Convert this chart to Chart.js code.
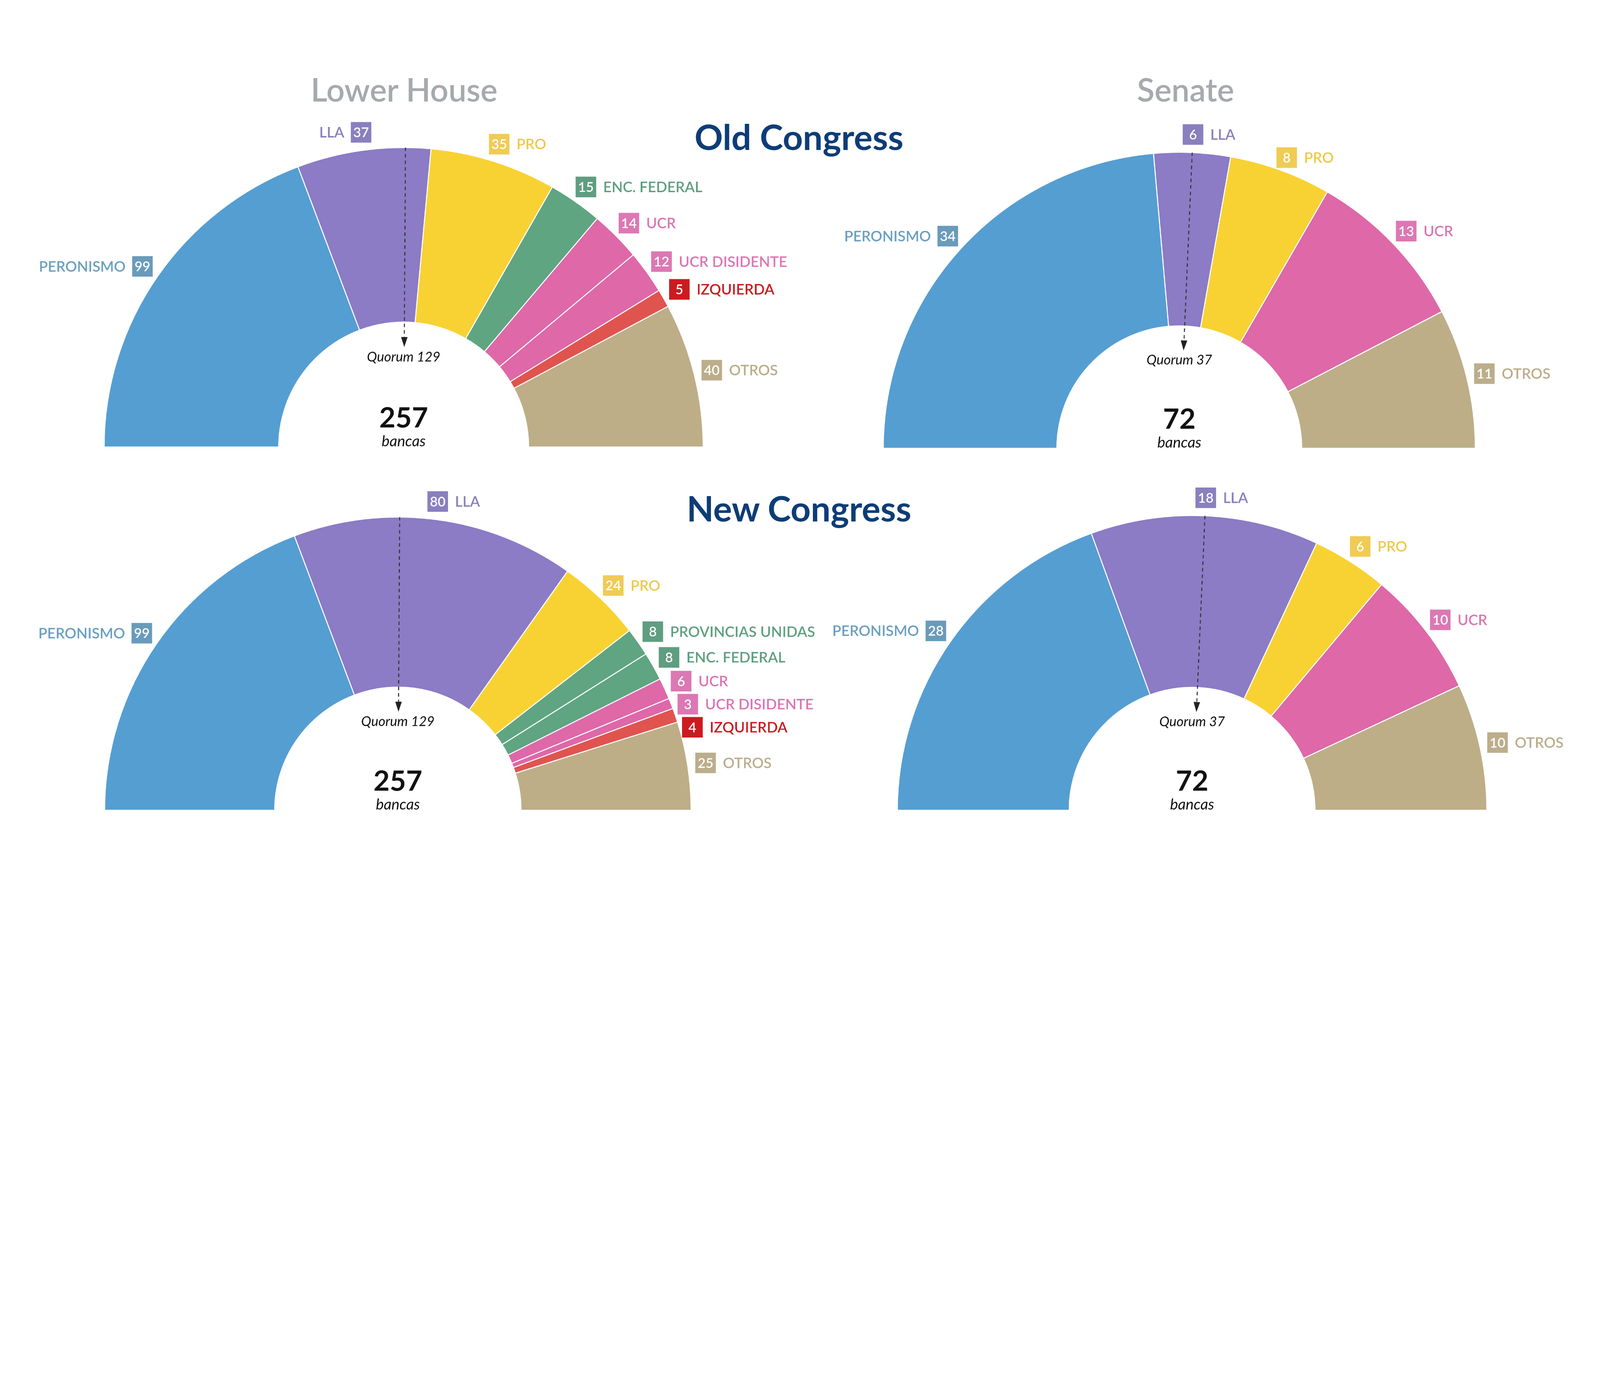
<!DOCTYPE html>
<html>
<head>
<meta charset="utf-8">
<script src="https://cdn.jsdelivr.net/npm/chart.js@4.4.0/dist/chart.umd.min.js"></script>
<style>
  html, body { margin: 0; padding: 0; background: #fff; overflow: hidden; }
  #page { position: absolute; left: 0; top: 0; width: 6378px; height: 3543px; overflow: hidden; transform-origin: 0 0; font-family: Lato, 'Open Sans', sans-serif; background: #fff; }
  canvas { position: absolute; }
  .title { position: absolute; transform: translate(-50%, -50%); white-space: nowrap; }
  .house { color: #a6aaae; font-size: 128px; font-weight: 600; }
  .congress { color: #0d3d77; font-size: 140px; font-weight: 700; }
</style>
</head>
<body>
<div id="page">
  <div class="title house" style="left:1611px; top:356px">Lower House</div>
  <div class="title house" style="left:4726px; top:356px">Senate</div>
  <div class="title congress" style="left:3185px; top:544px">Old Congress</div>
  <div class="title congress" style="left:3185px; top:2024px">New Congress</div>
</div>
<script>
// seats per bloc
const oldLowerParties = ['PERONISMO', 'LLA', 'PRO', 'ENC. FEDERAL', 'UCR', 'UCR DISIDENTE', 'IZQUIERDA', 'OTROS'];
const oldLowerSeats = [99, 37, 35, 15, 14, 12, 5, 40];
const oldSenateParties = ['PERONISMO', 'LLA', 'PRO', 'UCR', 'OTROS'];
const oldSenateSeats = [34, 6, 8, 13, 11];
const newLowerParties = ['PERONISMO', 'LLA', 'PRO', 'PROVINCIAS UNIDAS', 'ENC. FEDERAL', 'UCR', 'UCR DISIDENTE', 'IZQUIERDA', 'OTROS'];
const newLowerSeats = [99, 80, 24, 8, 8, 6, 3, 4, 25];
const newSenateParties = ['PERONISMO', 'LLA', 'PRO', 'UCR', 'OTROS'];
const newSenateSeats = [28, 18, 6, 10, 10];
const lowerQuorum = 129;
const senateQuorum = 37;

const partyStyle = {
  'PERONISMO':         { slice: '#559ed2', box: '#6a9bbb', text: '#6a9fc0' },
  'LLA':               { slice: '#8c7bc5', box: '#8a7fbf', text: '#8a80c0' },
  'PRO':               { slice: '#f8d232', box: '#f0cb55', text: '#efc94a' },
  'ENC. FEDERAL':      { slice: '#5fa582', box: '#5f9e80', text: '#5e9f80' },
  'PROVINCIAS UNIDAS': { slice: '#5fa582', box: '#5f9e80', text: '#5e9f80' },
  'UCR':               { slice: '#de68a8', box: '#dc78b3', text: '#dc75b2' },
  'UCR DISIDENTE':     { slice: '#de68a8', box: '#dc78b3', text: '#dc75b2' },
  'IZQUIERDA':         { slice: '#e0544f', box: '#cc1b1f', text: '#cc1b1f' },
  'OTROS':             { slice: '#bdae88', box: '#bcae8b', text: '#bbad8a' }
};

// fit the 6378x3543 layout into whatever viewport we get
const page = document.getElementById('page');
const fit = Math.min(window.innerWidth / 6378, window.innerHeight / 3543) || 1;
page.style.transform = 'scale(' + fit + ')';

const seatLabels = {
  id: 'seatLabels',
  afterDraw(chart, args, opts) {
    const ctx = chart.ctx;
    const arcs = chart.getDatasetMeta(0).data;
    const values = chart.data.datasets[0].data;
    const names = chart.data.labels;
    const cx = arcs[0].x, cy = arcs[0].y;
    const R = arcs[0].outerRadius, r = arcs[0].innerRadius;
    const total = values.reduce((a, b) => a + b, 0);
    ctx.save();

    // bloc labels, pushed down on the right when they would overlap
    let lastY = -Infinity;
    arcs.forEach((arc, i) => {
      const mid = (arc.startAngle + arc.endAngle) / 2;
      const d = R + 72;
      const x = cx + d * Math.cos(mid);
      let y = cy + d * Math.sin(mid);
      const right = x >= cx;
      if (right) {
        y = Math.max(y, lastY + 92);
        lastY = y;
      }
      const st = partyStyle[names[i]];
      ctx.fillStyle = st.box;
      ctx.fillRect(x - 41, y - 41, 82, 82);
      ctx.fillStyle = '#fff';
      ctx.font = '600 54px Lato';
      ctx.textAlign = 'center';
      ctx.textBaseline = 'middle';
      ctx.fillText(String(values[i]), x, y + 2);
      ctx.fillStyle = st.text;
      ctx.font = '600 58px Lato';
      if (right) {
        ctx.textAlign = 'left';
        ctx.fillText(names[i], x + 41 + 28, y + 2);
      } else {
        ctx.textAlign = 'right';
        ctx.fillText(names[i], x - 41 - 26, y + 2);
      }
    });

    // quorum marker
    const qa = -Math.PI + Math.PI * opts.quorum / total;
    const c = Math.cos(qa), s = Math.sin(qa);
    const tip = r * 0.8;
    ctx.strokeStyle = '#333';
    ctx.lineWidth = 4;
    ctx.setLineDash([14, 12]);
    ctx.beginPath();
    ctx.moveTo(cx + R * c, cy + R * s);
    ctx.lineTo(cx + (tip + 36) * c, cy + (tip + 36) * s);
    ctx.stroke();
    ctx.setLineDash([]);
    ctx.fillStyle = '#222';
    ctx.beginPath();
    ctx.moveTo(cx + tip * c, cy + tip * s);
    ctx.lineTo(cx + (tip + 40) * c - 13 * s, cy + (tip + 40) * s + 13 * c);
    ctx.lineTo(cx + (tip + 40) * c + 13 * s, cy + (tip + 40) * s - 13 * c);
    ctx.closePath();
    ctx.fill();

    ctx.fillStyle = '#111';
    ctx.textAlign = 'center';
    ctx.textBaseline = 'middle';
    ctx.font = 'italic 54px Lato';
    ctx.fillText('Quorum ' + opts.quorum, cx, cy - r * 0.72);
    ctx.font = 'bold 112px Lato';
    ctx.fillText(String(total), cx, cy - 114);
    ctx.font = 'italic 60px Lato';
    ctx.fillText('bancas', cx, cy - 22);
    ctx.restore();
  }
};

function drawChamber(parties, seats, quorum, cx, cy, R, r) {
  const padX = 650, padT = 260, padB = 120;
  const canvas = document.createElement('canvas');
  canvas.width = 2 * R + 2 * padX;
  canvas.height = R + padT + padB;
  canvas.style.left = (cx - R - padX) + 'px';
  canvas.style.top = (cy - R - padT) + 'px';
  canvas.style.width = canvas.width + 'px';
  canvas.style.height = canvas.height + 'px';
  page.appendChild(canvas);
  new Chart(canvas.getContext('2d'), {
    type: 'doughnut',
    data: {
      labels: parties,
      datasets: [{
        data: seats,
        backgroundColor: parties.map(p => partyStyle[p].slice),
        borderColor: '#ffffff',
        borderWidth: 4,
        circumference: 180,
        rotation: -90,
        radius: R,
        cutout: (100 * r / R).toFixed(2) + '%'
      }]
    },
    options: {
      responsive: false,
      animation: false,
      events: [],
      layout: { padding: { left: padX, right: padX, top: padT, bottom: padB } },
      plugins: {
        legend: { display: false },
        tooltip: { enabled: false },
        seatLabels: { quorum: quorum }
      }
    },
    plugins: [seatLabels]
  });
}

drawChamber(oldLowerParties, oldLowerSeats, lowerQuorum, 1609, 1782, 1194, 498);
drawChamber(oldSenateParties, oldSenateSeats, senateQuorum, 4701, 1787, 1180, 488);
drawChamber(newLowerParties, newLowerSeats, lowerQuorum, 1586, 3230, 1169, 491);
drawChamber(newSenateParties, newSenateSeats, senateQuorum, 4752, 3230, 1175, 490);
</script>
</body>
</html>
